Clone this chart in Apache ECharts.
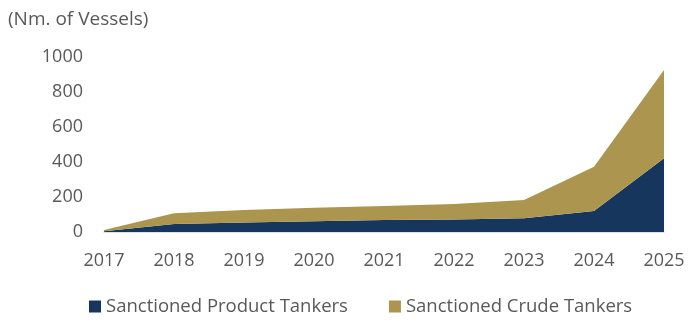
<!DOCTYPE html>
<html>
<head>
<meta charset="utf-8">
<script src="https://cdn.jsdelivr.net/npm/echarts@6/dist/echarts.min.js"></script>
<style>
	html, body { margin: 0; padding: 0; background: #fff; }
	#chart { width: 692px; height: 324px; }
</style>
</head>
<body>
<div id="chart"></div>
<script>
// data
var years = ['2017', '2018', '2019', '2020', '2021', '2022', '2023', '2024', '2025'];
var productTankers = [5, 46, 55, 62, 68, 72, 78, 120, 421];
var crudeTankers = [6, 61, 71, 76, 80, 88, 105, 253, 505];

var font = "'Open Sans', sans-serif";
var grey = '#595959';

var myChart = echarts.init(document.getElementById('chart'));

var option = {
	animation: false,
	textStyle: { fontFamily: font },
	graphic: [{
		type: 'text',
		left: 8,
		top: 10,
		style: { text: '(Nm. of Vessels)', font: "19px 'Open Sans', sans-serif", fill: grey }
	}],
	grid: { left: 104, right: 28, top: 57, bottom: 92 },
	legend: {
		bottom: 3,
		left: 84,
		itemWidth: 12,
		itemHeight: 12,
		itemGap: 41,
		icon: 'rect',
		textStyle: { color: grey, fontSize: 18.5, fontFamily: font },
		data: ['Sanctioned Product Tankers', 'Sanctioned Crude Tankers']
	},
	xAxis: {
		type: 'category',
		data: years,
		boundaryGap: false,
		axisLine: { lineStyle: { color: '#d9d9d9', width: 1.5 } },
		axisTick: { show: false },
		axisLabel: { color: grey, fontSize: 18, margin: 20 }
	},
	yAxis: {
		type: 'value',
		min: 0,
		max: 1000,
		interval: 200,
		axisLine: { show: false },
		axisTick: { show: false },
		splitLine: { show: false },
		axisLabel: { color: grey, fontSize: 18, margin: 21, formatter: function (v) { return String(v); } }
	},
	series: [
		{
			name: 'Sanctioned Product Tankers',
			type: 'line',
			stack: 'total',
			data: productTankers,
			showSymbol: false,
			lineStyle: { width: 0 },
			itemStyle: { color: '#17365d' },
			areaStyle: { color: '#17365d', opacity: 1 }
		},
		{
			name: 'Sanctioned Crude Tankers',
			type: 'line',
			stack: 'total',
			data: crudeTankers,
			showSymbol: false,
			lineStyle: { width: 0 },
			itemStyle: { color: '#ab954f' },
			areaStyle: { color: '#ab954f', opacity: 1 }
		}
	]
};

myChart.setOption(option);
</script>
</body>
</html>
